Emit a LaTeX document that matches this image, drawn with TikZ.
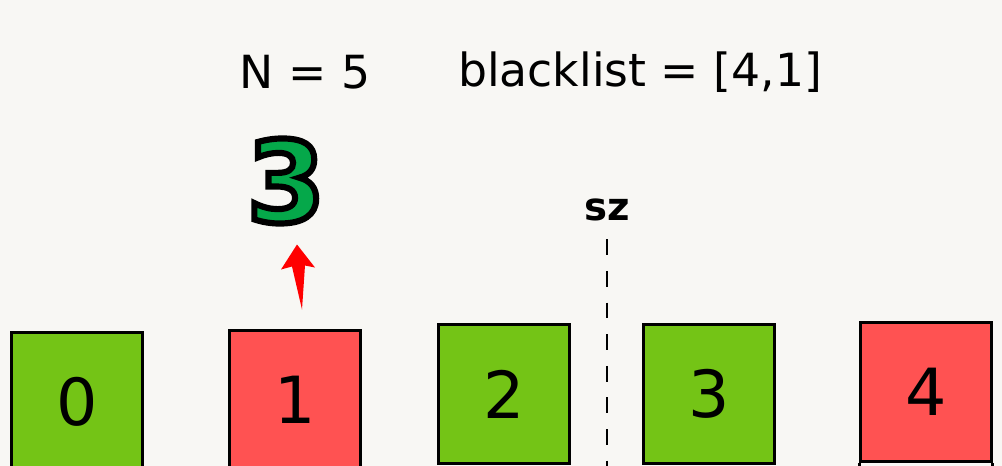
\documentclass[tikz,border=0pt]{standalone}
\usepackage{fontspec}
\setmainfont{DejaVu Sans}
\usepackage{xcolor}
\usepackage{tikz}
\usetikzlibrary{positioning, arrows.meta, calc}

\definecolor{bgpaper}{HTML}{F8F7F4}
\definecolor{okgreen}{HTML}{74C416}
\definecolor{badred}{HTML}{FF5252}
\definecolor{bigreen}{HTML}{05A84A}

\newcommand{\outlined}[1]{\special{pdf:literal direct 2 Tr 3.5 w 0 0 0 RG}#1\special{pdf:literal direct 0 Tr}}

\tikzset{
    cell/.style={draw=black, line width=1.7pt, minimum width=2.62cm, minimum height=2.8cm,
        inner sep=0pt, font=\fontsize{37}{40}\selectfont},
    goodcell/.style={cell, fill=okgreen},
    badcell/.style={cell, fill=badred},
}

\begin{document}
\begin{tikzpicture}[x=0.02cm, y=0.02cm]
    \fill[bgpaper] (0,0) rectangle (1002,466);
    \useasboundingbox (0,0) rectangle (1002,466);

    % header
    \node[font=\fontsize{26}{30}\selectfont] (nval) at (305,394) {N = 5};
    \node[font=\fontsize{26}{30}\selectfont] (black) at (640,394) {blacklist = [4,1]};

    % array cells
    \node[goodcell] (c0) at (77,64) {0};
    \node[badcell]  (c1) at (295,66) {1};
    \node[goodcell] (c2) at (504,72) {2};
    \node[goodcell] (c3) at (709,72) {3};
    \node[badcell]  (c4) at (926,74) {4};
    \draw[line width=1.7pt] (c4.south west) -- ++(0,-20);
    \draw[line width=1.7pt] (c4.south east) -- ++(0,-20);

    % boundary
    \node[font=\fontsize{22}{26}\selectfont\bfseries] (sz) at (607,256) {sz};
    \coordinate (szbot) at (607,0);
    \draw[line width=1.6pt, dash pattern=on 9pt off 9pt] (sz.south) ++(0,-12) -- (szbot);

    % remapped value
    \node[font=\fontsize{64}{70}\selectfont\bfseries, text=bigreen] (val) at (286,285)
        {\outlined{3}};
    \coordinate (arrtail) at ($(c1.north)+(7,19)$);
    \coordinate (arrtip) at ($(c1.north)+(2,84)$);
    \fill[red] (arrtip) -- ++(18,-23) -- ++(-10,2) -- (arrtail)
        -- ++(-10,43) -- ++(-11,-3) -- cycle;
\end{tikzpicture}
\end{document}
